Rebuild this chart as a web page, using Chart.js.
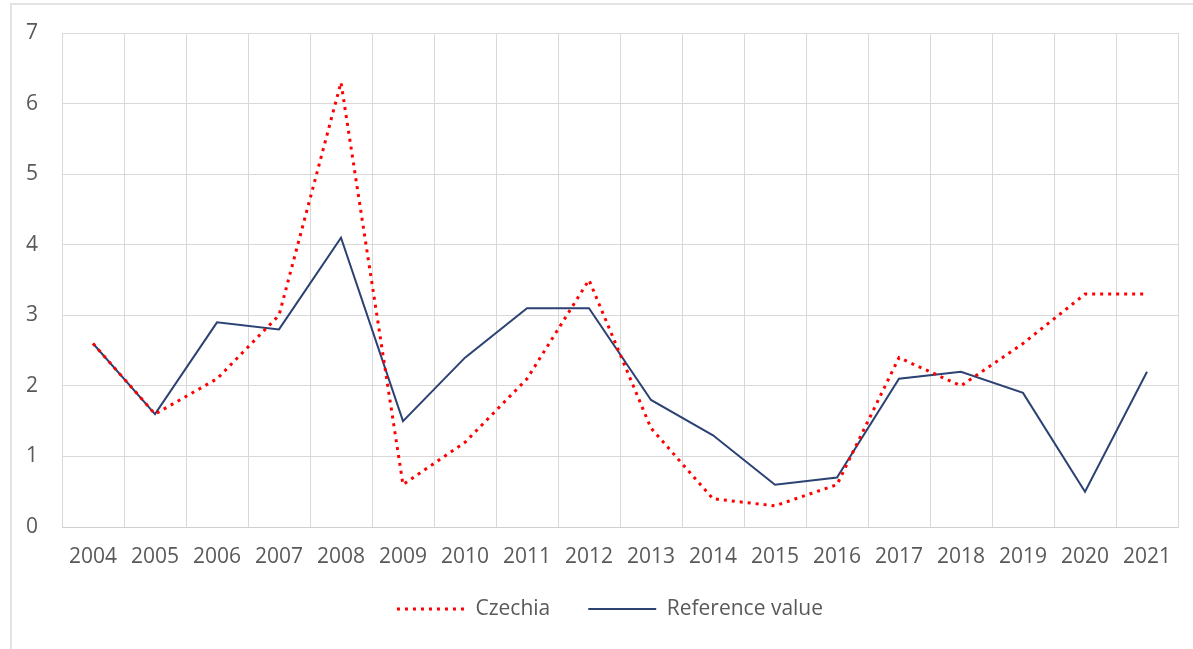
<!DOCTYPE html>
<html>
<head>
<meta charset="utf-8">
<script src="https://cdn.jsdelivr.net/npm/chart.js@4/dist/chart.umd.min.js"></script>
<style>
  html, body { margin: 0; padding: 0; background: #fff; }
  #wrap { position: relative; width: 1193px; height: 649px; overflow: hidden; }
  #frame { position: absolute; left: 10px; top: 3px; width: 1200px; height: 700px;
           border-top: 2px solid #e3e3e3; border-left: 2px solid #e3e3e3; box-sizing: border-box; }
  canvas { position: absolute; left: 0; top: 0; }
</style>
</head>
<body>
<div id="wrap">
  <div id="frame"></div>
  <canvas id="c" width="1193" height="649"></canvas>
</div>
<script>
const years = ['2004','2005','2006','2007','2008','2009','2010','2011','2012','2013','2014','2015','2016','2017','2018','2019','2020','2021'];
const czechia = [2.6, 1.6, 2.1, 3.0, 6.3, 0.6, 1.2, 2.1, 3.5, 1.4, 0.4, 0.3, 0.6, 2.4, 2.0, 2.6, 3.3, 3.3];
const referenceValue = [2.6, 1.6, 2.9, 2.8, 4.1, 1.5, 2.4, 3.1, 3.1, 1.8, 1.3, 0.6, 0.7, 2.1, 2.2, 1.9, 0.5, 2.2];
const yTicks = [0, 1, 2, 3, 4, 5, 6, 7];

const textColor = '#595959';
const fontFamily = '"Open Sans", "Noto Sans", sans-serif';
const fontSize = 21;
const legendPadLayout = 16.3;
const legendGap = 38;
const legendShiftX = 16;
const legendRaise = 4;

const adjustLegend = {
  id: 'adjustLegend',
  afterLayout(chart) {
    const lg = chart.legend;
    if (!lg) return;
    const up = (legendGap - legendPadLayout) + legendRaise;
    lg.left += legendShiftX;
    lg.right += legendShiftX;
    lg.top -= up;
    lg.height += up;
    if (lg.lineWidths && lg.lineWidths.length) lg.lineWidths[0] += 2 * (legendGap - legendPadLayout);
    lg.options.labels.padding = legendGap;
  }
};

new Chart(document.getElementById('c'), {
  type: 'line',
  data: {
    labels: years,
    datasets: [
      {
        label: 'Czechia',
        data: czechia,
        borderColor: '#ff0000',
        backgroundColor: '#ff0000',
        borderWidth: 3,
        borderDash: [3, 5],
        borderCapStyle: 'butt',
        pointRadius: 0,
        tension: 0,
        fill: false
      },
      {
        label: 'Reference value',
        data: referenceValue,
        borderColor: '#2b4273',
        backgroundColor: '#2b4273',
        borderWidth: 2,
        pointRadius: 0,
        tension: 0,
        fill: false
      }
    ]
  },
  plugins: [adjustLegend],
  options: {
    responsive: false,
    animation: false,
    layout: { padding: { left: 10, right: 15, top: 33, bottom: 15.5 } },
    plugins: {
      tooltip: { enabled: false },
      legend: {
        position: 'bottom',
        labels: {
          usePointStyle: true,
          pointStyle: 'line',
          pointStyleWidth: 68,
          boxHeight: 3,
          padding: legendPadLayout,
          color: textColor,
          font: { family: fontFamily, size: fontSize },
          generateLabels(chart) {
            const items = Chart.defaults.plugins.legend.labels.generateLabels(chart);
            items.forEach((it) => {
              const ds = chart.data.datasets[it.datasetIndex];
              it.lineDash = ds.borderDash || [];
              it.lineWidth = ds.borderWidth;
              it.strokeStyle = ds.borderColor;
              it.fillStyle = ds.borderColor;
              it.lineCap = 'butt';
            });
            return items;
          }
        }
      }
    },
    scales: {
      x: {
        type: 'category',
        offset: true,
        grid: { offset: true, color: '#d9d9d9', lineWidth: 1, drawTicks: false },
        border: { color: '#d0d0d0', width: 1 },
        ticks: { color: textColor, font: { family: fontFamily, size: fontSize }, padding: 17, maxRotation: 0, autoSkip: false }
      },
      y: {
        min: 0,
        max: 7,
        afterFit: (s) => { s.width = 52; s.paddingTop = 0; s.paddingBottom = 0; },
        afterBuildTicks: (s) => { s.ticks = yTicks.map(v => ({ value: v })); },
        grid: { color: '#d9d9d9', lineWidth: 1, drawTicks: false },
        border: { display: false },
        ticks: { color: textColor, font: { family: fontFamily, size: fontSize }, padding: 24 }
      }
    }
  }
});
</script>
</body>
</html>
